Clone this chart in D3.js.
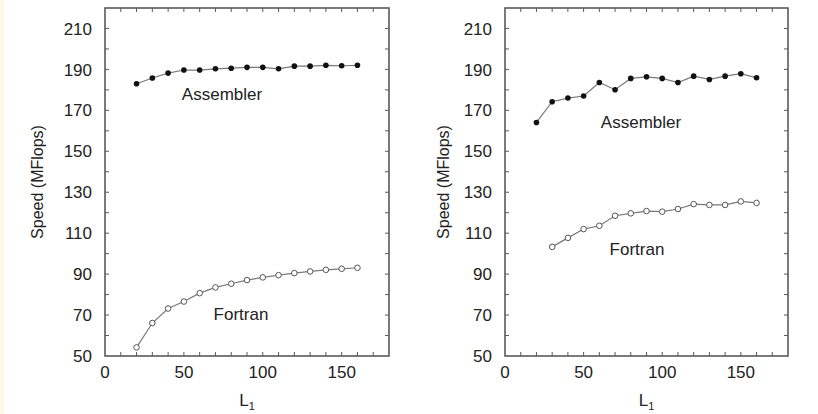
<!DOCTYPE html>
<html>
<head>
<meta charset="utf-8">
<script src="https://cdn.jsdelivr.net/npm/d3@7"></script>
<style>
  html, body { margin: 0; padding: 0; background: #ffffff; }
  svg { display: block; }
  text { font-family: "Liberation Sans", Arial, Helvetica, sans-serif; fill: #222; }
</style>
</head>
<body>
<svg id="chart" width="818" height="414"></svg>
<script>
// ---- data ----
const xValues = [20, 30, 40, 50, 60, 70, 80, 90, 100, 110, 120, 130, 140, 150, 160];
const leftAssembler = [183.0, 185.8, 188.2, 189.7, 189.7, 190.3, 190.6, 191.0, 191.0, 190.3, 191.6, 191.6, 192.0, 191.8, 192.0];
const leftFortran = [54.2, 66.1, 73.2, 76.6, 80.7, 83.5, 85.3, 87.1, 88.4, 89.5, 90.5, 91.3, 92.1, 92.6, 93.1];
const rightAssembler = [164.1, 174.2, 176.0, 177.0, 183.6, 180.1, 185.6, 186.4, 185.6, 183.6, 186.7, 185.1, 186.7, 187.9, 185.9];
const rightFortranX = [30, 40, 50, 60, 70, 80, 90, 100, 110, 120, 130, 140, 150, 160];
const rightFortran = [103.3, 107.7, 112.0, 113.6, 118.5, 119.7, 120.8, 120.5, 121.8, 124.2, 123.8, 123.8, 125.5, 124.8];
const xTickLabels = [0, 50, 100, 150];
const yTickLabels = [50, 70, 90, 110, 130, 150, 170, 190, 210];
const xDomain = [0, 180];
const yDomain = [50, 220];
const yAxisTitle = "Speed (MFlops)";
const seriesNames = ["Assembler", "Fortran"];

const svg = d3.select("#chart");
svg.append("rect").attr("x", 0).attr("y", 0).attr("width", 818).attr("height", 414).attr("fill", "#ffffff");
svg.append("rect").attr("x", 0).attr("y", 0).attr("width", 4).attr("height", 414).attr("fill", "#fdf9e3");

const panels = [
  { left: 105, right: 389, top: 8, bottom: 356, titleX: 37,
    asm: xValues.map((x, i) => [x, leftAssembler[i]]),
    fort: xValues.map((x, i) => [x, leftFortran[i]]),
    asmLabel: [222, 100], fortLabel: [241, 320] },
  { left: 505, right: 788, top: 8, bottom: 356, titleX: 443,
    asm: xValues.map((x, i) => [x, rightAssembler[i]]),
    fort: rightFortranX.map((x, i) => [x, rightFortran[i]]),
    asmLabel: [641, 128], fortLabel: [637, 255] }
];

const frameColor = "#5a5a5a";
const lineColor = "#7a7a7a";

panels.forEach(p => {
  const g = svg.append("g");
  const x = d3.scaleLinear().domain(xDomain).range([p.left, p.right]);
  const y = d3.scaleLinear().domain(yDomain).range([p.bottom, p.top]);
  const xMinor = d3.range(10, 180, 10);
  const yMinor = d3.range(60, 220, 10);
  const tl = 4;

  // ticks (inward, all four sides)
  const tg = g.append("g").attr("stroke", frameColor).attr("stroke-width", 1);
  xMinor.forEach(v => {
    tg.append("line").attr("x1", x(v)).attr("x2", x(v)).attr("y1", p.bottom).attr("y2", p.bottom - tl);
    tg.append("line").attr("x1", x(v)).attr("x2", x(v)).attr("y1", p.top).attr("y2", p.top + tl);
  });
  yMinor.forEach(v => {
    tg.append("line").attr("y1", y(v)).attr("y2", y(v)).attr("x1", p.left).attr("x2", p.left + tl);
    tg.append("line").attr("y1", y(v)).attr("y2", y(v)).attr("x1", p.right).attr("x2", p.right - tl);
  });

  // frame
  g.append("rect").attr("x", p.left).attr("y", p.top)
    .attr("width", p.right - p.left).attr("height", p.bottom - p.top)
    .attr("fill", "none").attr("stroke", frameColor).attr("stroke-width", 1.6);

  // tick labels
  g.selectAll(".xl").data(xTickLabels).enter().append("text")
    .attr("x", d => x(d)).attr("y", 378).attr("text-anchor", "middle")
    .attr("font-size", 17).text(d => d);
  g.selectAll(".yl").data(yTickLabels).enter().append("text")
    .attr("x", p.left - 13).attr("y", d => y(d)).attr("dy", "0.36em")
    .attr("text-anchor", "end").attr("font-size", 17).text(d => d);

  // axis titles
  const xt = g.append("text").attr("x", (p.left + p.right) / 2).attr("y", 406)
    .attr("text-anchor", "middle").attr("font-size", 17);
  xt.append("tspan").text("L");
  xt.append("tspan").attr("font-size", 11).attr("dy", 4).text("1");
  g.append("text")
    .attr("transform", `translate(${p.titleX},${(p.top + p.bottom) / 2}) rotate(-90)`)
    .attr("dy", "0.35em").attr("text-anchor", "middle").attr("font-size", 16)
    .text(yAxisTitle);

  const line = d3.line().x(d => x(d[0])).y(d => y(d[1]));

  // Assembler series
  g.append("path").datum(p.asm).attr("d", line).attr("fill", "none")
    .attr("stroke", lineColor).attr("stroke-width", 1.2);
  g.selectAll(".asm").data(p.asm).enter().append("circle")
    .attr("cx", d => x(d[0])).attr("cy", d => y(d[1])).attr("r", 2.8)
    .attr("fill", "#111");

  // Fortran series
  g.append("path").datum(p.fort).attr("d", line).attr("fill", "none")
    .attr("stroke", lineColor).attr("stroke-width", 1.2);
  g.selectAll(".fort").data(p.fort).enter().append("circle")
    .attr("cx", d => x(d[0])).attr("cy", d => y(d[1])).attr("r", 2.8)
    .attr("fill", "#fff").attr("stroke", "#555").attr("stroke-width", 1);

  // series labels
  g.append("text").attr("x", p.asmLabel[0]).attr("y", p.asmLabel[1])
    .attr("text-anchor", "middle").attr("font-size", 17).text(seriesNames[0]);
  g.append("text").attr("x", p.fortLabel[0]).attr("y", p.fortLabel[1])
    .attr("text-anchor", "middle").attr("font-size", 17).text(seriesNames[1]);
});
</script>
</body>
</html>
